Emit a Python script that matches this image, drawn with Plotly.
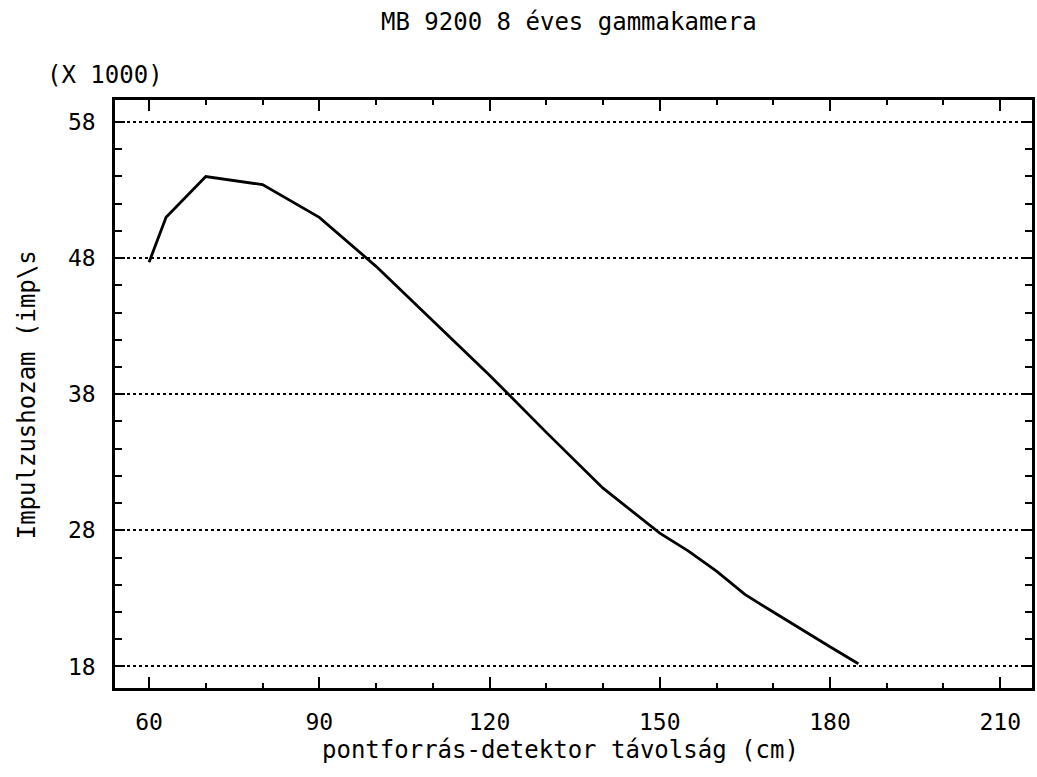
import plotly.graph_objects as go

# Point-source to detector distance (cm) and measured count rate (x1000 imp/s)
distance_cm = [60, 63, 70, 80, 90, 100, 110, 120, 130, 140, 150, 155, 160, 165, 170, 175, 180, 185]
count_rate_k = [47.7, 51.0, 54.0, 53.4, 51.0, 47.4, 43.4, 39.4, 35.2, 31.1, 27.8, 26.5, 25.0, 23.3, 22.0, 20.7, 19.45, 18.2]

x_ticks = [60, 90, 120, 150, 180, 210]
y_ticks = [18, 28, 38, 48, 58]

FONT = "DejaVu Sans Mono"
W, H = 1037, 777
ML, MR, MT, MB = 115, 2, 100, 89
PW, PH = W - ML - MR, H - MT - MB


def px_to_paper(px, py):
    return (px - ML) / PW, (H - MB - py) / PH


fig = go.Figure()
fig.add_trace(go.Scatter(
    x=distance_cm, y=count_rate_k, mode="lines",
    line=dict(color="black", width=2.8), hoverinfo="x+y",
))

axis_common = dict(
    showline=True, linecolor="black", linewidth=2.5, mirror="ticks",
    ticks="inside", tickcolor="black", tickwidth=2,
    tickfont=dict(family=FONT, size=23, color="black"),
    zeroline=False,
)

fig.update_xaxes(
    range=[54.0, 215.6], tickmode="array", tickvals=x_ticks,
    ticktext=[str(v) for v in x_ticks], ticklen=11,
    showgrid=False, ticklabelstandoff=12,
    minor=dict(dtick=10, tick0=60, ticks="inside", ticklen=5, tickwidth=2,
               tickcolor="black", showgrid=False),
    **axis_common,
)
fig.update_yaxes(
    range=[16.42, 59.62], tickmode="array", tickvals=y_ticks,
    ticktext=[str(v) for v in y_ticks], ticklen=10,
    showgrid=True, gridcolor="black", gridwidth=2, griddash="dot",
    ticklabelstandoff=12,
    minor=dict(dtick=2, tick0=18, ticks="inside", ticklen=7, tickwidth=2,
               tickcolor="black", showgrid=False),
    **axis_common,
)

annotations = []
tx, ty = px_to_paper(570, 22)
annotations.append(dict(text="MB 9200 8 éves gammakamera", x=tx, y=ty,
                        font=dict(size=24)))
tx, ty = px_to_paper(105, 75)
annotations.append(dict(text="(X 1000)", x=tx, y=ty, font=dict(size=24)))
tx, ty = px_to_paper(562, 750)
annotations.append(dict(text="pontforrás-detektor távolság (cm)", x=tx, y=ty,
                        font=dict(size=24)))
tx, ty = px_to_paper(27, 395)
annotations.append(dict(text="Impulzushozam (imp\\s", x=tx, y=ty, textangle=-90,
                        font=dict(size=24)))
for a in annotations:
    a.update(xref="paper", yref="paper", showarrow=False,
             xanchor="center", yanchor="middle")
    a["font"].update(family=FONT, color="black")

fig.update_layout(
    width=W, height=H,
    margin=dict(l=ML, r=MR, t=MT, b=MB, pad=0),
    paper_bgcolor="white", plot_bgcolor="white",
    showlegend=False, annotations=annotations,
)

fig.write_html("out.html")
